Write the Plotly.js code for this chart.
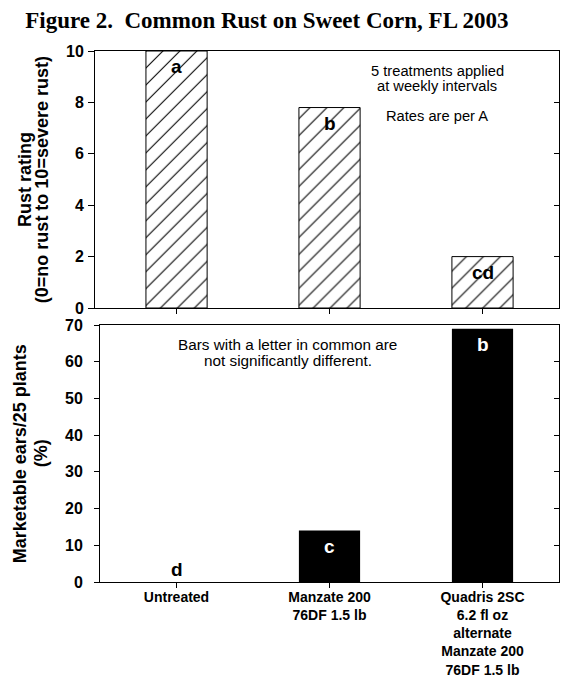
<!DOCTYPE html>
<html>
<head>
<meta charset="utf-8">
<script src="https://cdn.plot.ly/plotly-3.0.1.min.js"></script>
<style>html,body{margin:0;padding:0;background:#fff}#chart{width:563px;height:679px}</style>
</head>
<body>
<div id="chart"></div>
<script>
const categories = ['Untreated', 'Manzate 200<br>76DF 1.5 lb', 'Quadris 2SC<br>6.2 fl oz<br>alternate<br>Manzate 200<br>76DF 1.5 lb'];
const rustRating = [10, 7.8, 2.0];
const rustLetters = ['a', 'b', 'cd'];
const marketable = [0, 14, 69];
const marketLetters = ['d', 'c', 'b'];
const rustTicks = [0, 2, 4, 6, 8, 10];
const marketTicks = [0, 10, 20, 30, 40, 50, 60, 70];

const SANS = 'Liberation Sans, Arial, sans-serif';
const SERIF = 'Liberation Serif, Times New Roman, serif';

const traces = [
  {
    type: 'bar', x: categories, y: rustRating, xaxis: 'x', yaxis: 'y', width: 0.4,
    marker: {color: 'white', line: {color: 'black', width: 1},
      pattern: {shape: '/', fgcolor: 'black', bgcolor: 'white', size: 12, solidity: 0.09}},
    showlegend: false, hoverinfo: 'skip'
  },
  {
    type: 'bar', x: categories, y: marketable, xaxis: 'x2', yaxis: 'y2', width: 0.4,
    marker: {color: 'black', line: {color: 'black', width: 0}},
    showlegend: false, hoverinfo: 'skip'
  },
  {type: 'scatter', x: [], y: [], xaxis: 'x', yaxis: 'y3', showlegend: false, hoverinfo: 'skip'},
  {type: 'scatter', x: [], y: [], xaxis: 'x2', yaxis: 'y4', showlegend: false, hoverinfo: 'skip'}
];

const annotations = [];
const letterFont = (c) => ({family: SANS, size: 19, color: c, weight: 700});
rustLetters.forEach((t, i) => {
  annotations.push({xref: 'x', yref: 'y', x: categories[i], y: rustRating[i], text: '<b>' + t + '</b>',
    showarrow: false, yanchor: 'top', yshift: -3, font: letterFont('black')});
});
marketLetters.forEach((t, i) => {
  const zero = marketable[i] === 0;
  annotations.push({xref: 'x2', yref: 'y2', x: categories[i], y: marketable[i], text: '<b>' + t + '</b>',
    showarrow: false, yanchor: zero ? 'bottom' : 'top', yshift: zero ? 0 : -3,
    font: letterFont(zero ? 'black' : 'white')});
});
const notes = [
  ['5 treatments applied', 0.738, 0.962, 14.7],
  ['at weekly intervals', 0.738, 0.934, 14.7],
  ['Rates are per A', 0.738, 0.878, 14.7],
  ['Bars with a letter in common are', 0.415, 0.448, 15.3],
  ['not significantly different.', 0.415, 0.417, 15.3]
];
notes.forEach(n => annotations.push({xref: 'paper', yref: 'paper', x: n[1], y: n[2], text: n[0],
  showarrow: false, xanchor: 'center', yanchor: 'middle', font: {family: SANS, size: n[3], color: 'black'}}));
const titleFont = {family: SANS, size: 18, color: 'black', weight: 700};
const ytitles = [
  ['Rust rating', -0.152, 0.758],
  ['(0=no rust to 10=severe rust)', -0.115, 0.758],
  ['Marketable ears/25 plants', -0.160, 0.242],
  ['(%)', -0.115, 0.242]
];
ytitles.forEach(n => annotations.push({xref: 'paper', yref: 'paper', x: n[1], y: n[2], text: '<b>' + n[0] + '</b>',
  textangle: -90, showarrow: false, xanchor: 'center', yanchor: 'middle', font: titleFont}));

const tickFont = {family: SANS, size: 16, color: 'black', weight: 700};
const baseY = {showline: true, linecolor: 'black', linewidth: 1, mirror: true, ticks: 'outside', ticklen: 6,
  tickcolor: 'black', showgrid: false, zeroline: false, tickfont: tickFont, fixedrange: true};
const innerY = {showline: false, ticks: 'inside', ticklen: 5, tickcolor: 'black', showticklabels: false,
  showgrid: false, zeroline: false, side: 'right'};

const layout = {
  width: 563, height: 679,
  margin: {l: 95, r: 4, t: 51, b: 97},
  paper_bgcolor: 'white', plot_bgcolor: 'white',
  title: {text: '<b>Figure 2.\u00a0 Common Rust on Sweet Corn, FL 2003</b>', font: {family: SERIF, size: 23, color: 'black', weight: 700},
    x: 0.474, xref: 'container', y: 0.971, yref: 'container', yanchor: 'middle'},
  xaxis: {domain: [0, 1], anchor: 'y', type: 'category', range: [-0.533, 2.5], showline: true, linecolor: 'black',
    mirror: true, ticks: 'outside', ticklen: 5, tickcolor: 'black', showticklabels: false, showgrid: false},
  xaxis2: {domain: [5 / 464, 1], anchor: 'y2', type: 'category', range: [-0.5, 2.5], showline: true, linecolor: 'black',
    mirror: true, ticks: 'outside', ticklen: 5, tickcolor: 'black', showgrid: false, ticklabelstandoff: -3,
    tickfont: {family: SANS, size: 14, color: 'black', weight: 700}},
  yaxis: Object.assign({}, baseY, {domain: [274 / 531, 1], anchor: 'x', range: [0, 10], tickvals: rustTicks, ticklabelstandoff: 1}),
  yaxis2: Object.assign({}, baseY, {domain: [0, 257 / 531], anchor: 'x2', range: [0, 70], tickvals: marketTicks, ticklen: 5, ticklabelstandoff: 8}),
  yaxis3: Object.assign({}, innerY, {overlaying: 'y', anchor: 'x', range: [0, 10], tickvals: rustTicks.slice(1, -1)}),
  yaxis4: Object.assign({}, innerY, {overlaying: 'y2', anchor: 'x2', range: [0, 70], tickvals: marketTicks.slice(1, -1)}),
  annotations: annotations,
  showlegend: false
};

Plotly.newPlot('chart', traces, layout, {staticPlot: true, displayModeBar: false});
</script>
</body>
</html>
